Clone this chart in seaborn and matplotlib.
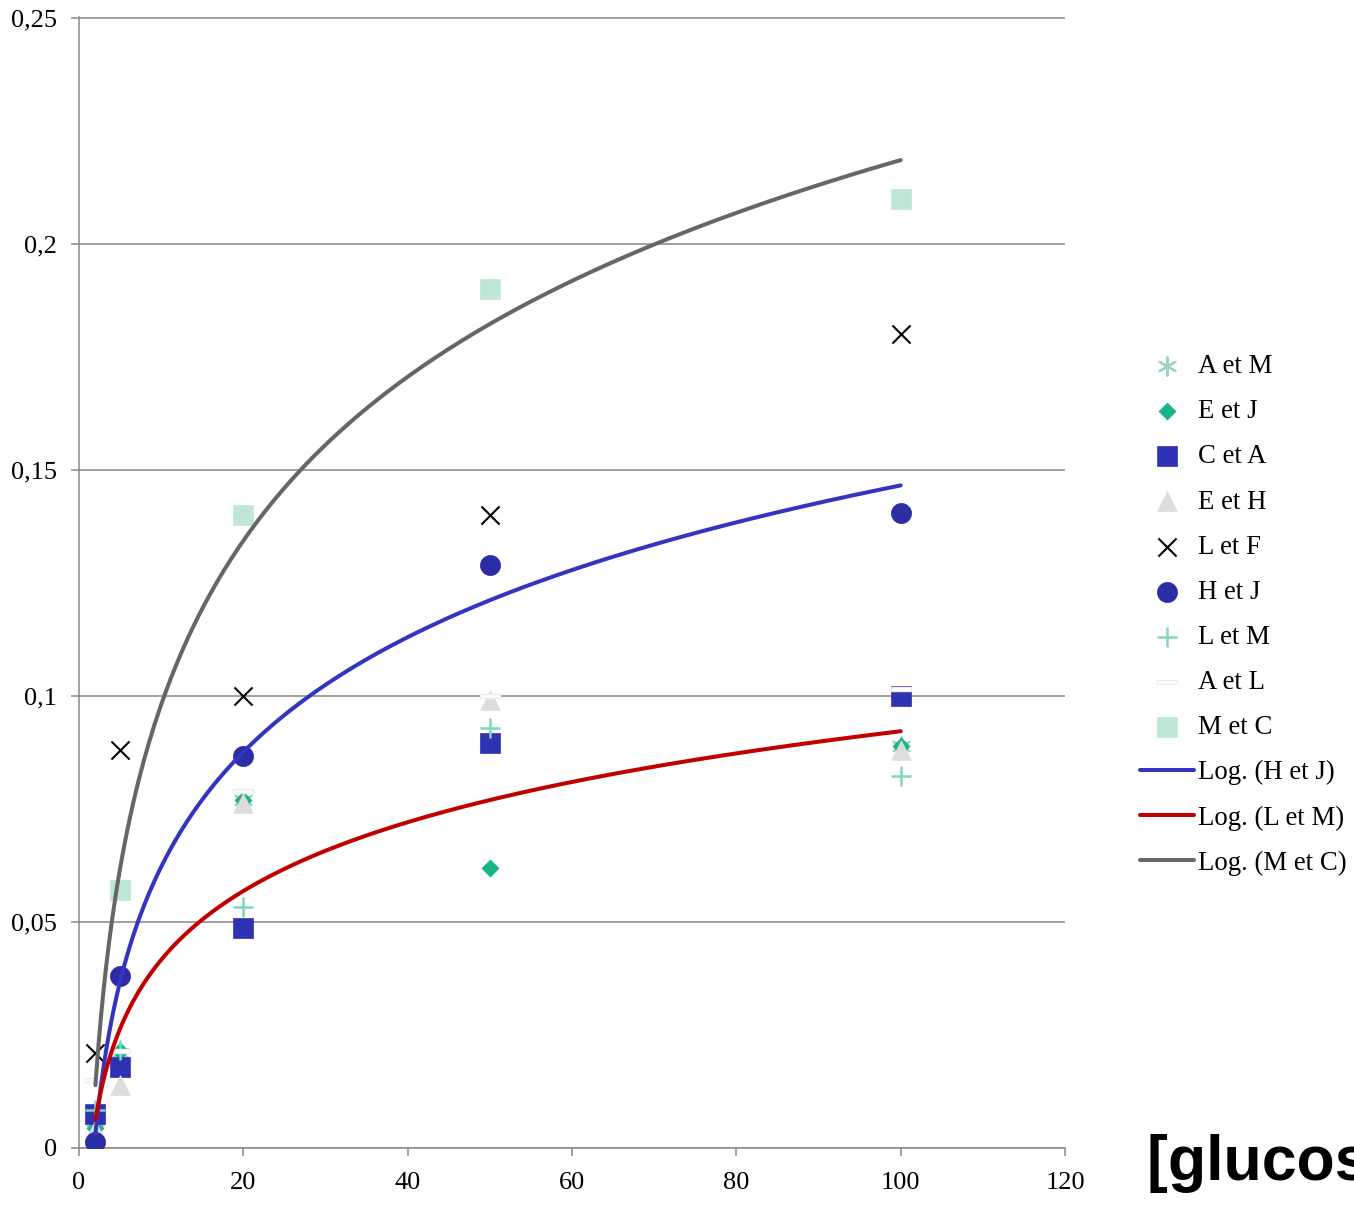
import numpy as np
import pandas as pd
import matplotlib
matplotlib.use("Agg")
import matplotlib.pyplot as plt
from matplotlib.ticker import FuncFormatter, MultipleLocator
import seaborn as sns

# concentrations (x) and absorbance for each pair
conc = [2, 5, 20, 50, 100]

a_et_m = [0.006, 0.021, 0.077, 0.090, 0.089]
e_et_j = [0.0045, 0.0215, 0.077, 0.062, 0.089]
c_et_a = [0.0075, 0.018, 0.0486, 0.0897, 0.100]
e_et_h = [0.004, 0.014, 0.0763, 0.099, 0.088]
l_et_f = [0.021, 0.088, 0.100, 0.140, 0.180]
h_et_j = [0.0013, 0.038, 0.0867, 0.129, 0.1404]
l_et_m = [0.0085, 0.0217, 0.0533, 0.093, 0.0822]
a_et_l = [0.015, 0.0215, 0.079, 0.100, 0.1015]
m_et_c = [None, 0.057, 0.140, 0.190, 0.210]

sns.set_style("white")
plt.rcParams['font.family'] = ['Liberation Serif', 'DejaVu Serif']
plt.rcParams['text.color'] = 'black'
plt.rcParams['xtick.labelcolor'] = 'black'
plt.rcParams['ytick.labelcolor'] = 'black'

fig = plt.figure(figsize=(13.54, 12.10), dpi=100)
ax = fig.add_axes([79 / 1354, 1 - 1148 / 1210, (1065 - 79) / 1354, (1148 - 17) / 1210])

dash = [(-1, -0.25), (1, -0.25), (1, 0.25), (-1, 0.25), (-1, -0.25)]

# (label, values, marker, size, face, edge, linewidth)
series = [
    ("A et M", a_et_m, (6, 2, 0), 170, "#9BD3BB", "#9BD3BB", 1.6),
    ("E et J", e_et_j, "D", 75, "#16B486", "#16B486", 0.5),
    ("C et A", c_et_a, "s", 200, "#2F33B3", "#2F33B3", 0.5),
    ("E et H", e_et_h, "^", 200, "#DDDDDD", "#DDDDDD", 0.5),
    ("L et F", l_et_f, "x", 170, "black", "black", 1.5),
    ("H et J", h_et_j, "o", 210, "#2A2DA3", "#2A2DA3", 0.5),
    ("L et M", l_et_m, "+", 190, "#7FD8B8", "#7FD8B8", 1.8),
    ("A et L", a_et_l, dash, 200, "white", "#EDEDED", 1.0),
    ("M et C", m_et_c, "s", 200, "#BFE7D5", "#BFE7D5", 0.5),
]

for label, vals, mk, sz, fc, ec, lw in series:
    df = pd.DataFrame({"conc": conc, "abs": vals}).dropna()
    sns.scatterplot(data=df, x="conc", y="abs", marker=mk, s=sz, color=fc,
                    edgecolor=ec, linewidth=lw, label=label, ax=ax, zorder=3)

# logarithmic trend lines fitted on the data
trends = [("Log. (H et J)", h_et_j, "#3434C2"),
          ("Log. (L et M)", l_et_m, "#C00000"),
          ("Log. (M et C)", m_et_c, "#666666")]
xs = np.linspace(2, 100, 300)
for label, vals, col in trends:
    df = pd.DataFrame({"conc": conc, "abs": vals}).dropna()
    slope, icpt = np.polyfit(np.log(df["conc"].astype(float)), df["abs"].astype(float), 1)
    sns.lineplot(x=xs, y=slope * np.log(xs) + icpt, color=col, linewidth=2.9,
                 label=label, ax=ax, zorder=4)

ax.set_xlim(0, 120)
ax.set_ylim(0, 0.2502)
ax.xaxis.set_major_locator(MultipleLocator(20))
ax.yaxis.set_major_locator(MultipleLocator(0.05))
ax.yaxis.set_major_formatter(FuncFormatter(lambda v, p: f"{round(v, 2):g}".replace(".", ",")))
ax.set_xlabel("")
ax.set_ylabel("")

ax.grid(axis="y", color="#888888", linewidth=1.1)
ax.grid(axis="x", visible=False)
for side in ["top", "right"]:
    ax.spines[side].set_visible(False)
for side in ["left", "bottom"]:
    ax.spines[side].set_color("#888888")
    ax.spines[side].set_linewidth(1.1)
ax.tick_params(axis="both", direction="out", length=6, width=1.1, color="#888888",
               labelsize=19, labelcolor="black", left=True, bottom=True)
ax.tick_params(axis="x", pad=11)
ax.tick_params(axis="y", pad=10)

ax.legend(loc="center left", bbox_to_anchor=(1140 / 1354, 1 - 615 / 1210),
          bbox_transform=fig.transFigure, frameon=False, fontsize=19.3,
          handlelength=2.0, handletextpad=0.15, labelspacing=0.75,
          borderpad=0, borderaxespad=0, labelcolor="black")

fig.text(1147 / 1354, 1 - 1180 / 1210, "[glucose] (mM)", fontsize=45, color="black",
         fontweight="bold", family=["Liberation Sans", "DejaVu Sans"], va="baseline")

fig.savefig("out.png", dpi=100)
